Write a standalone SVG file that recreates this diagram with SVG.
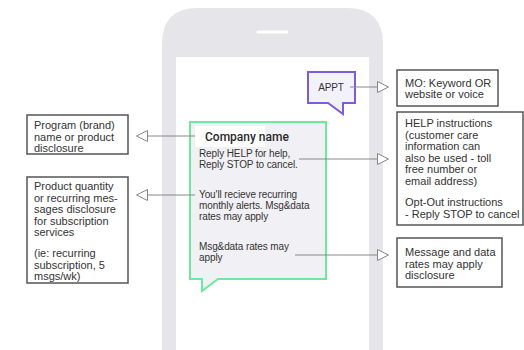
<svg xmlns="http://www.w3.org/2000/svg" width="524" height="350" viewBox="0 0 524 350">
  <style>
    text { font-family: "Liberation Sans", Arial, sans-serif; fill: #333; }
    .note { font-size: 11px; }
    .msg { font-size: 10px; letter-spacing: -0.1px; }
    .title { font-family: Roboto, "Liberation Sans", sans-serif; font-size: 12px; font-weight: 500; fill: #2a2a2a; }
    .box { fill: #fff; stroke: #555; stroke-width: 1.5; }
    .conn { stroke: #888; stroke-width: 1; fill: none; }
    .head { fill: #fff; stroke: #888; stroke-width: 1; }
  </style>
  <defs>
    <marker id="arrowR" viewBox="0 0 12 12" refX="0" refY="6" markerWidth="12" markerHeight="12" markerUnits="userSpaceOnUse" orient="auto">
      <path class="head" d="M0.5,0.5 L11.5,6 L0.5,11.5 Z"/>
    </marker>
  </defs>
  <rect width="524" height="350" fill="#fff"/>

  <!-- phone body and screen -->
  <g id="phone">
    <path d="M162,360 L162,44 Q162,8 198,8 L347,8 Q383,8 383,44 L383,360 Z" fill="#e5e5ea"/>
    <rect x="176" y="57" width="193" height="300" fill="#fff"/>
    <line x1="258" y1="32" x2="287" y2="32" stroke="#fff" stroke-width="3" stroke-linecap="round"/>
  </g>

  <!-- incoming keyword bubble -->
  <g id="appt">
    <path d="M308,72 L355,72 L355,103 L343,103 L343,114 L328,103 L308,103 Z" fill="#f3f1fa" stroke="#7c5cdb" stroke-width="2" stroke-linejoin="miter"/>
    <text class="msg" x="331" y="91" text-anchor="middle">APPT</text>
  </g>

  <!-- outgoing message bubble -->
  <g id="message">
    <path d="M190,122 L326,122 L326,279 L218,279 L202,291 L202,279 L190,279 Z" fill="#f1f0f4" stroke="#6ee89a" stroke-width="2"/>
    <rect x="195" y="126" width="70" height="21" fill="#fff"/>
    <text class="title" x="205" y="141">Company name</text>
    <text class="msg" x="199" y="157">Reply HELP for help,</text>
    <text class="msg" x="199" y="168">Reply STOP to cancel.</text>
    <text class="msg" x="199" y="198">You'll recieve recurring</text>
    <text class="msg" x="199" y="209">monthly alerts. Msg&amp;data</text>
    <text class="msg" x="199" y="220">rates may apply</text>
    <text class="msg" x="199" y="250">Msg&amp;data rates may</text>
    <text class="msg" x="199" y="261">apply</text>
  </g>

  <!-- annotation boxes -->
  <g id="note-brand">
    <rect class="box" x="27" y="115" width="101" height="39"/>
    <text class="note" x="34" y="129">Program (brand)</text>
    <text class="note" x="34" y="140.5">name or product</text>
    <text class="note" x="34" y="152">disclosure</text>
  </g>
  <g id="note-quantity">
    <rect class="box" x="27" y="177" width="101" height="106"/>
    <text class="note" x="34" y="190">Product quantity</text>
    <text class="note" x="34" y="201.5">or recurring mes-</text>
    <text class="note" x="34" y="213">sages disclosure</text>
    <text class="note" x="34" y="224.5">for subscription</text>
    <text class="note" x="34" y="236">services</text>
    <text class="note" x="34" y="257">(ie: recurring</text>
    <text class="note" x="34" y="268.5">subscription, 5</text>
    <text class="note" x="34" y="280">msgs/wk)</text>
  </g>
  <g id="note-mo">
    <rect class="box" x="397" y="70" width="101" height="36"/>
    <text class="note" x="405" y="87">MO: Keyword OR</text>
    <text class="note" x="405" y="98">website or voice</text>
  </g>
  <g id="note-help">
    <rect class="box" x="397" y="112" width="126" height="113"/>
    <text class="note" x="405" y="127">HELP instructions</text>
    <text class="note" x="405" y="138.5">(customer care</text>
    <text class="note" x="405" y="150">information can</text>
    <text class="note" x="405" y="161.5">also be used - toll</text>
    <text class="note" x="405" y="173">free number or</text>
    <text class="note" x="405" y="184.5">email address)</text>
    <text class="note" x="405" y="206">Opt-Out instructions</text>
    <text class="note" x="405" y="217.5">- Reply STOP to cancel</text>
  </g>
  <g id="note-rates">
    <rect class="box" x="397" y="238" width="105" height="49"/>
    <text class="note" x="405" y="256">Message and data</text>
    <text class="note" x="405" y="267.5">rates may apply</text>
    <text class="note" x="405" y="279">disclosure</text>
  </g>

  <!-- connectors -->
  <g id="connectors">
    <line class="conn" x1="195" y1="136" x2="148" y2="136" marker-end="url(#arrowR)"/>
    <line class="conn" x1="195" y1="195" x2="148" y2="195" marker-end="url(#arrowR)"/>
    <line class="conn" x1="350" y1="87" x2="377" y2="87" marker-end="url(#arrowR)"/>
    <line class="conn" x1="299" y1="159" x2="377" y2="159" marker-end="url(#arrowR)"/>
    <line class="conn" x1="295" y1="255" x2="377" y2="255" marker-end="url(#arrowR)"/>
  </g>
</svg>
